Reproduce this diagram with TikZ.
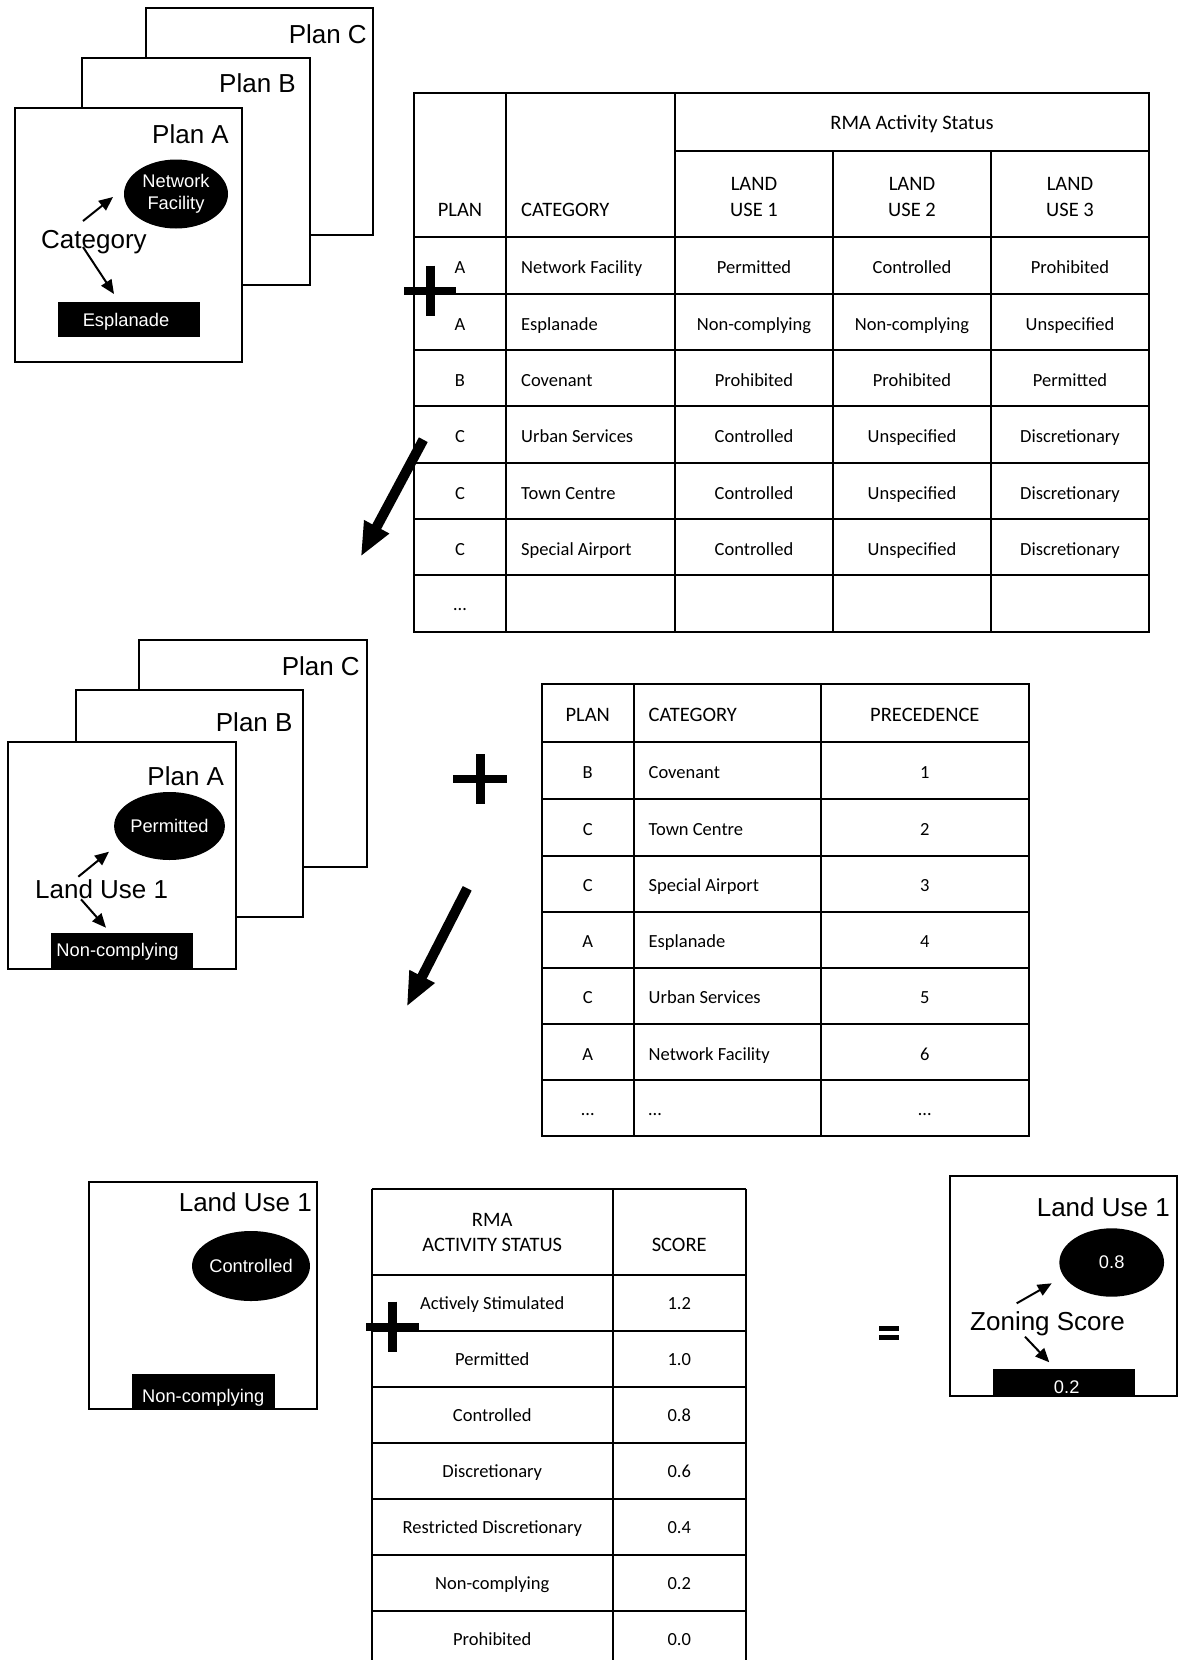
\documentclass[tikz,border=0pt]{standalone}
\usepackage{fontspec}
\setmainfont{Liberation Sans}
\newfontfamily\tabfont{Carlito}
\usetikzlibrary{arrows.meta,shapes.geometric}
\tikzset{
  planbox/.style={draw=black, line width=2pt, fill=white, anchor=north west, inner sep=0pt, outer sep=0pt},
  biglbl/.style={font=\fontsize{26}{30}\selectfont, inner sep=0pt},
  blob/.style={ellipse, fill=black, text=white, inner sep=0pt, align=center, font=\fontsize{18.3}{21.7}\selectfont},
  blackbar/.style={fill=black, draw=none, anchor=north west, inner sep=0pt, outer sep=0pt},
  whitetxt/.style={text=white, inner sep=0pt, anchor=base, font=\fontsize{18.3}{21.7}\selectfont},
  smallarrow/.style={line width=2pt, -{Triangle[length=14pt,width=12pt]}},
  bigarrow/.style={line width=10pt, -{Triangle[length=34pt,width=26pt]}},
  tline/.style={line width=2pt},
  th/.style={font=\tabfont\fontsize{20.5}{24}\selectfont, inner sep=0pt, anchor=base},
  td/.style={font=\tabfont\fontsize{18.5}{22}\selectfont, inner sep=0pt, anchor=base},
  tdl/.style={td, anchor=base west},
  plusv/.style={line width=9pt},
  plush/.style={line width=7.5pt},
}
\begin{document}
\begin{tikzpicture}[x=1pt,y=-1pt]
\fill[white] (0,0) rectangle (1182,1660);
\useasboundingbox (0,0) rectangle (1182,1660);

% ---------- Stack 1 ----------
\node[planbox, minimum width=227pt, minimum height=226.7pt] (p1c) at (145.7,8.3) {};
\node[biglbl, anchor=base east] (p1cl) at (367,43) {Plan C};
\node[planbox, minimum width=227.7pt, minimum height=227.3pt] (p1b) at (82.3,57.7) {};
\node[biglbl, anchor=base east] (p1bl) at (296,92) {Plan B};
\node[planbox, minimum width=227.3pt, minimum height=253.4pt] (p1a) at (15,108.3) {};
\node[biglbl, anchor=base east] (p1al) at (229,143) {Plan A};
\node[blob, minimum width=104pt, minimum height=69pt] (nf) at (176,194) {Network\\Facility};
\node[biglbl, anchor=base west] (cat) at (41,248) {Category};
\node[blackbar, minimum width=142pt, minimum height=35pt] (espbox) at (58,302) {};
\node[whitetxt] (esp) at (126,326) {Esplanade};
\coordinate (c1a) at (83,221); \coordinate (c1b) at (113,197);
\coordinate (c1c) at (83,247); \coordinate (c1d) at (114,294);
\draw[smallarrow] (c1a) -- (c1b);
\draw[smallarrow] (c1c) -- (c1d);

% ---------- Table 1 ----------
\draw[tline] (414,93) rectangle (1149,631.5);
\draw[tline] (506,93) -- (506,631.5);
\draw[tline] (675,93) -- (675,631.5);
\draw[tline] (833,151) -- (833,631.5);
\draw[tline] (991,151) -- (991,631.5);
\draw[tline] (675,151) -- (1149,151);
\foreach \yy in {237,293.5,350,406,462.5,519,575} \draw[tline] (414,\yy) -- (1149,\yy);
\node[th] (t1h0) at (912,129.5) {RMA Activity Status};
\node[th] (t1h1) at (460,216.4) {PLAN};
\node[th, anchor=base west] (t1h2) at (521,216.4) {CATEGORY};
\node[th] (t1h3a) at (754,190.2) {LAND};
\node[th] (t1h3b) at (754,216.4) {USE 1};
\node[th] (t1h4a) at (912,190.2) {LAND};
\node[th] (t1h4b) at (912,216.4) {USE 2};
\node[th] (t1h5a) at (1070,190.2) {LAND};
\node[th] (t1h5b) at (1070,216.4) {USE 3};
\foreach \b/\p/\c/\u/\v/\w [count=\i] in {
  273.75/A/Network Facility/Permitted/Controlled/Prohibited,
  330.25/A/Esplanade/Non-complying/Non-complying/Unspecified,
  386.5/B/Covenant/Prohibited/Prohibited/Permitted,
  442.75/C/Urban Services/Controlled/Unspecified/Discretionary,
  499.25/C/Town Centre/Controlled/Unspecified/Discretionary,
  555.5/C/Special Airport/Controlled/Unspecified/Discretionary}{
  \node[td] (t1p\i) at (460,\b) {\p};
  \node[tdl] (t1c\i) at (521,\b) {\c};
  \node[td] (t1u\i) at (754,\b) {\u};
  \node[td] (t1v\i) at (912,\b) {\v};
  \node[td] (t1w\i) at (1070,\b) {\w};
}
\node[td] (t1dots) at (460,610) {…};

% plus 1
\draw[plusv] (430,265.7) -- (430,315.7);
\draw[plush] (404,291) -- (456,291);
% arrow 1
\coordinate (a1s) at (423.3,439.7); \coordinate (a1e) at (360.7,556.7);
\draw[bigarrow] (a1s) -- (a1e);

% ---------- Stack 2 ----------
\node[planbox, minimum width=227.4pt, minimum height=227.3pt] (p2c) at (139.3,640) {};
\node[biglbl, anchor=base east] (p2cl) at (360,675) {Plan C};
\node[planbox, minimum width=226.7pt, minimum height=226.7pt] (p2b) at (76,690) {};
\node[biglbl, anchor=base east] (p2bl) at (292.7,731.7) {Plan B};
\node[planbox, minimum width=227.4pt, minimum height=227.3pt] (p2a) at (8.3,741.7) {};
\node[biglbl, anchor=base east] (p2al) at (224.3,785) {Plan A};
\node[blob, minimum width=104pt, minimum height=68pt] (perm) at (169.5,826) {Permitted};
\node[biglbl, anchor=base west] (lu2) at (35,898.3) {Land Use 1};
\node[blackbar, minimum width=141.7pt, minimum height=35.7pt] (nc2box) at (51,933.3) {};
\node[whitetxt] (nc2) at (117.5,956.7) {Non-complying};
\coordinate (c2a) at (78.3,876.7); \coordinate (c2b) at (109,851.7);
\coordinate (c2c) at (81,899.3); \coordinate (c2d) at (106,927.7);
\draw[smallarrow] (c2a) -- (c2b);
\draw[smallarrow] (c2c) -- (c2d);

% plus 2
\draw[plusv] (480,754) -- (480,804);
\draw[plush] (453,779) -- (507,779);
% arrow 2
\coordinate (a2s) at (467.2,888.3); \coordinate (a2e) at (406.7,1006.7);
\draw[bigarrow] (a2s) -- (a2e);

% ---------- Table 2 ----------
\draw[tline] (541.7,684) rectangle (1029,1135.7);
\draw[tline] (633.7,684) -- (633.7,1135.7);
\draw[tline] (820.7,684) -- (820.7,1135.7);
\foreach \yy in {742.3,799.3,855.7,911.7,967.7,1024,1080} \draw[tline] (541.7,\yy) -- (1029,\yy);
\node[th] (t2h1) at (587.7,721) {PLAN};
\node[th, anchor=base west] (t2h2) at (648.5,721) {CATEGORY};
\node[th] (t2h3) at (924.85,721) {PRECEDENCE};
\foreach \b/\p/\c/\n [count=\i] in {
  778.8/B/Covenant/1,
  835.5/C/Town Centre/2,
  891.7/C/Special Airport/3,
  947.7/A/Esplanade/4,
  1003.85/C/Urban Services/5,
  1060/A/Network Facility/6,
  1115.85/…/…/…}{
  \node[td] (t2p\i) at (587.7,\b) {\p};
  \node[tdl] (t2c\i) at (648.5,\b) {\c};
  \node[td] (t2n\i) at (924.85,\b) {\n};
}

% ---------- Section 3 ----------
\node[planbox, minimum width=228.2pt, minimum height=227.3pt] (p3) at (88.8,1181.7) {};
\node[biglbl, anchor=base east] (p3l) at (312,1211.7) {Land Use 1};
\node[blob, minimum width=104pt, minimum height=70pt] (ctrl) at (251,1266) {Controlled};
\node[blackbar, minimum width=142.7pt, minimum height=35pt] (nc3box) at (131.9,1374) {};
\node[whitetxt] (nc3) at (203.2,1402.7) {Non-complying};

% ---------- Table 3 ----------
\draw[tline] (371.5,1189) -- (371.5,1660);
\draw[tline] (613,1189) -- (613,1660);
\draw[tline] (745.5,1189) -- (745.5,1660);
\foreach \yy in {1189,1275,1331,1387.3,1443.3,1499.3,1555.3,1611.3} \draw[tline] (371.5,\yy) -- (745.5,\yy);
\node[th] (t3h1a) at (492.25,1226.7) {RMA};
\node[th] (t3h1b) at (492.25,1251.7) {ACTIVITY STATUS};
\node[th] (t3h2) at (679.25,1251.7) {SCORE};
\foreach \b/\s/\v [count=\i] in {
  1309.3/Actively Stimulated/1.2,
  1365.45/Permitted/1.0,
  1421.6/Controlled/0.8,
  1477.6/Discretionary/0.6,
  1533.6/Restricted Discretionary/0.4,
  1589.6/Non-complying/0.2,
  1645.6/Prohibited/0.0}{
  \node[td] (t3s\i) at (492.25,\b) {\s};
  \node[td] (t3v\i) at (679.25,\b) {\v};
}
% plus 3
\draw[plusv] (392,1301.7) -- (392,1352.3);
\draw[plush] (366,1327) -- (418.6,1327);

% equals
\draw[line width=5pt] (879.3,1328.2) -- (899,1328.2);
\draw[line width=5pt] (879.3,1337.5) -- (899,1337.5);

% ---------- Result box ----------
\node[planbox, minimum width=227.3pt, minimum height=220pt] (p4) at (950,1176) {};
\node[biglbl, anchor=base east] (p4l) at (1170,1216.7) {Land Use 1};
\node[blob, minimum width=104.7pt, minimum height=68.4pt] (sc08) at (1111.7,1262.5) {0.8};
\node[biglbl, anchor=base west] (zs) at (970,1330) {Zoning Score};
\node[blackbar, minimum width=141.7pt, minimum height=27pt] (sc02box) at (993.3,1369) {};
\node[whitetxt] (sc02) at (1066.7,1393) {0.2};
\coordinate (c4a) at (1016.7,1303.3); \coordinate (c4b) at (1051.7,1283.3);
\coordinate (c4c) at (1025,1336.7); \coordinate (c4d) at (1049.3,1362.3);
\draw[smallarrow] (c4a) -- (c4b);
\draw[smallarrow] (c4c) -- (c4d);
\end{tikzpicture}
\end{document}
